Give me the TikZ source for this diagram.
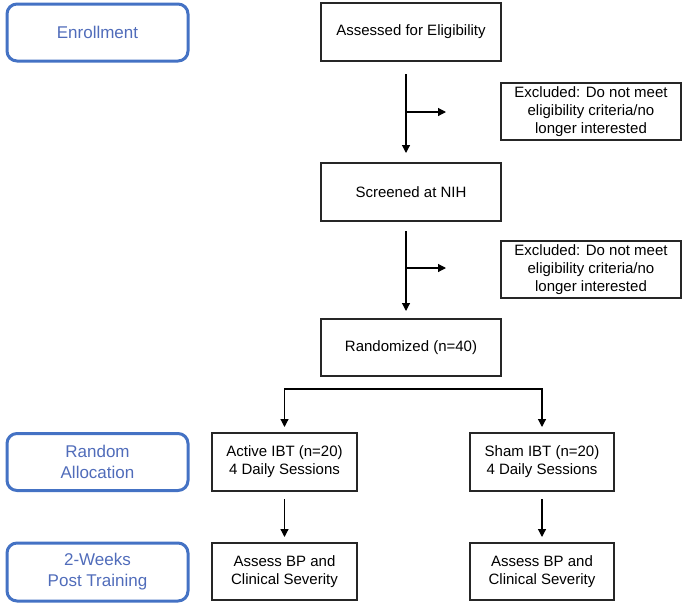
\documentclass[tikz,border=0pt]{standalone}
\usepackage{fontspec}
\setmainfont{Liberation Sans}
\usetikzlibrary{arrows.meta}
\definecolor{bord}{RGB}{68,114,196}
\definecolor{btext}{RGB}{80,108,186}
\tikzset{
  stage/.style={draw=bord, line width=3pt, rounded corners=10pt, align=center, text=btext,
     font=\fontsize{17}{21}\selectfont, inner sep=0pt},
  box/.style={draw=black!85, line width=1.4pt, align=center, inner sep=0pt,
     font=\fontsize{15}{18}\selectfont},
  arr/.style={line width=1.2pt, -{Triangle[length=8pt,width=8pt]}},
}
\begin{document}
\begin{tikzpicture}[x=1pt,y=-1pt]
\useasboundingbox (0,0) rectangle (685,603);
% stage labels
\node[stage, minimum width=181pt, minimum height=57pt] (enroll) at (97.5,32.5) {Enrollment};
\node[stage, minimum width=181pt, minimum height=57pt] (alloc) at (97.5,462) {Random\\Allocation};
\node[stage, minimum width=181pt, minimum height=58pt] (weeks) at (97.5,572) {2-Weeks\\Post Training};
% flow boxes
\node[box, minimum width=180pt, minimum height=58pt] (assess) at (411,32) {Assessed for Eligibility};
\node[box, minimum width=180pt, minimum height=57pt] (excl1) at (591,111.5) {Excluded: Do not meet\\eligibility criteria/no\\longer interested};
\node[box, minimum width=180pt, minimum height=58pt] (screen) at (411,192) {Screened at NIH};
\node[box, minimum width=180pt, minimum height=57pt] (excl2) at (591,269.5) {Excluded: Do not meet\\eligibility criteria/no\\longer interested};
\node[box, minimum width=180pt, minimum height=57pt] (rand) at (411,347.5) {Randomized (n=40)};
\node[box, minimum width=145pt, minimum height=58pt] (active) at (284.5,462) {Active IBT (n=20)\\4 Daily Sessions};
\node[box, minimum width=144pt, minimum height=58pt] (sham) at (542,462) {Sham IBT (n=20)\\4 Daily Sessions};
\node[box, minimum width=145pt, minimum height=57pt] (assA) at (284.5,571.5) {Assess BP and\\Clinical Severity};
\node[box, minimum width=144pt, minimum height=57pt] (assS) at (542,571.5) {Assess BP and\\Clinical Severity};
% connector coordinates
\coordinate (s1) at (406,74);
\coordinate (e1) at (406,153);
\coordinate (b1) at (406,112);
\coordinate (t1) at (446,112);
\coordinate (s2) at (406,231);
\coordinate (e2) at (406,311);
\coordinate (b2) at (406,268);
\coordinate (t2) at (446,268);
\coordinate (sl) at (284.5,389);
\coordinate (sr) at (542,389);
\coordinate (el) at (284.5,427);
\coordinate (er) at (542,427);
\coordinate (ls) at (284.5,499);
\coordinate (le) at (284.5,537);
\coordinate (rs) at (542,499);
\coordinate (re) at (542,537);
% connectors
\draw[arr] (s1) -- (e1);
\draw[arr] (b1) -- (t1);
\draw[arr] (s2) -- (e2);
\draw[arr] (b2) -- (t2);
\draw[line width=1.2pt, {Triangle[length=8pt,width=8pt]}-{Triangle[length=8pt,width=8pt]}] (el) -- (sl) -- (sr) -- (er);
\draw[arr] (ls) -- (le);
\draw[arr] (rs) -- (re);
\end{tikzpicture}
\end{document}
